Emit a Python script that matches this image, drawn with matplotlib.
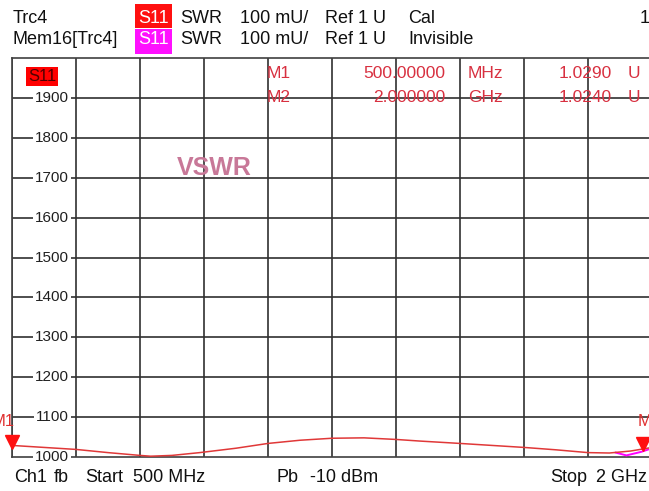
import matplotlib as mpl
mpl.use('Agg')
import matplotlib.pyplot as plt
from matplotlib.patches import Rectangle

plt.rcParams['font.family'] = ['Liberation Sans', 'DejaVu Sans']

# trace values (frequency in MHz, SWR in mU)
freq_mhz = [500, 575, 650, 725, 800, 825, 875, 940, 1025, 1100, 1175, 1250,
            1325, 1400, 1455, 1550, 1625, 1700, 1775, 1850, 1900, 1950, 2000]
swr_mu = [1029, 1024, 1019, 1011, 1004, 1002, 1004, 1011, 1022, 1034, 1042, 1047,
          1048, 1044, 1040, 1034, 1029, 1024, 1018, 1011, 1010, 1015, 1024]
# memory trace only shows where it leaves the live trace
mem_freq = [1915, 1940, 1975, 2000]
mem_mu = [1011, 1004, 1013, 1022]

y_ticks = [1100, 1200, 1300, 1400, 1500, 1600, 1700, 1800, 1900]
x_grid = [500 + 150 * i for i in range(11)]

W, H = 649, 491
fig = plt.figure(figsize=(W / 100, H / 100), dpi=100)

def fx(px):
    return px / W

def fy(py):
    return 1 - py / H

ax = fig.add_axes([fx(12), fy(457), fx(652) - fx(12), fy(58) - fy(457)])
ax.set_xlim(500, 2000)
ax.set_ylim(1000, 2000)
ax.set_xticks([])
ax.set_yticks([])
for s in ax.spines.values():
    s.set_color('#404040')
    s.set_linewidth(1.2)

for xv in x_grid:
    ax.axvline(xv, color='#303030', lw=1.2, zorder=1)
for yv in y_ticks:
    ax.axhline(yv, color='#303030', lw=1.2, zorder=1)

# scale labels sit on the grid lines, masking them
for yv in y_ticks + [1000]:
    ax.annotate(str(yv), xy=(0, yv), xycoords=('axes fraction', 'data'),
                xytext=(57, 0), textcoords='offset pixels', ha='right', va='center',
                fontsize=11, color='#202020', zorder=3,
                bbox=dict(boxstyle='square,pad=0.12', fc='white', ec='none'))

ax.plot(mem_freq, mem_mu, color='#ff00ff', lw=1.4, zorder=4)
ax.plot(freq_mhz, swr_mu, color='#e03838', lw=1.1, zorder=5)

# marker triangles
ax.plot([freq_mhz[0]], [swr_mu[0] + 8], marker='v', color='#ff1010', ms=10,
        clip_on=False, zorder=6)
ax.plot([freq_mhz[-1] - 20], [swr_mu[-1] + 8], marker='v', color='#ff1010', ms=10,
        clip_on=False, zorder=6)
fig.text(fx(3), fy(421), 'M1', ha='center', va='center', fontsize=12, color='#e03030')
fig.text(fx(638), fy(421), 'M', ha='left', va='center', fontsize=12, color='#e03030')

# marker readout
red = '#d83040'
rows = [(74, 'M1', '500.00000', 'MHz', '1.0290'), (97, 'M2', '2.000000', 'GHz', '1.0240')]
for py, name, val, unit, swr in rows:
    fig.text(fx(267), fy(py), name, ha='left', va='center', fontsize=12.5, color=red)
    fig.text(fx(445), fy(py), val, ha='right', va='center', fontsize=12.5, color=red)
    fig.text(fx(468), fy(py), unit, ha='left', va='center', fontsize=12.5, color=red)
    fig.text(fx(612), fy(py), swr, ha='right', va='center', fontsize=12.5, color=red)
    fig.text(fx(628), fy(py), 'U', ha='left', va='center', fontsize=12.5, color=red)

# S11 tag inside the diagram
fig.patches.append(Rectangle((fx(26), fy(86)), fx(58) - fx(26), fy(67) - fy(86),
                             transform=fig.transFigure, fc='#ff0000', ec='none', zorder=5))
fig.text(fx(42), fy(76.5), 'S11', ha='center', va='center', fontsize=12, color='#500000', zorder=6)

fig.text(fx(214), fy(168), 'VSWR', ha='center', va='center', fontsize=18,
         fontweight='bold', color='#c87898')

# header
for py, y0, y1, fc, name, state in [(18.5, 4, 28, '#ff1010', 'Trc4', 'Cal'),
                                    (40, 29, 54, '#ff10ff', 'Mem16[Trc4]', 'Invisible')]:
    fig.patches.append(Rectangle((fx(135), fy(y1)), fx(172) - fx(135), fy(y0) - fy(y1),
                                 transform=fig.transFigure, fc=fc, ec='none'))
    fig.text(fx(153.5), fy(py), 'S11', ha='center', va='center', fontsize=13, color='white')
    fig.text(fx(13), fy(py), name, ha='left', va='center', fontsize=13, color='#101010')
    fig.text(fx(180), fy(py), 'SWR', ha='left', va='center', fontsize=13, color='#101010')
    fig.text(fx(240), fy(py), '100 mU/', ha='left', va='center', fontsize=13, color='#101010')
    fig.text(fx(325), fy(py), 'Ref 1 U', ha='left', va='center', fontsize=13, color='#101010')
    fig.text(fx(408), fy(py), state, ha='left', va='center', fontsize=13, color='#101010')
fig.text(fx(640), fy(18.5), '1', ha='left', va='center', fontsize=13, color='#101010')

# footer
for px, s in [(14, 'Ch1'), (54, 'fb'), (85, 'Start'), (133, '500 MHz'),
              (277, 'Pb'), (310, '-10 dBm'), (550, 'Stop'), (596, '2 GHz')]:
    fig.text(fx(px), fy(477), s, ha='left', va='center', fontsize=13, color='#101010')

fig.savefig('out.png', dpi=100)
